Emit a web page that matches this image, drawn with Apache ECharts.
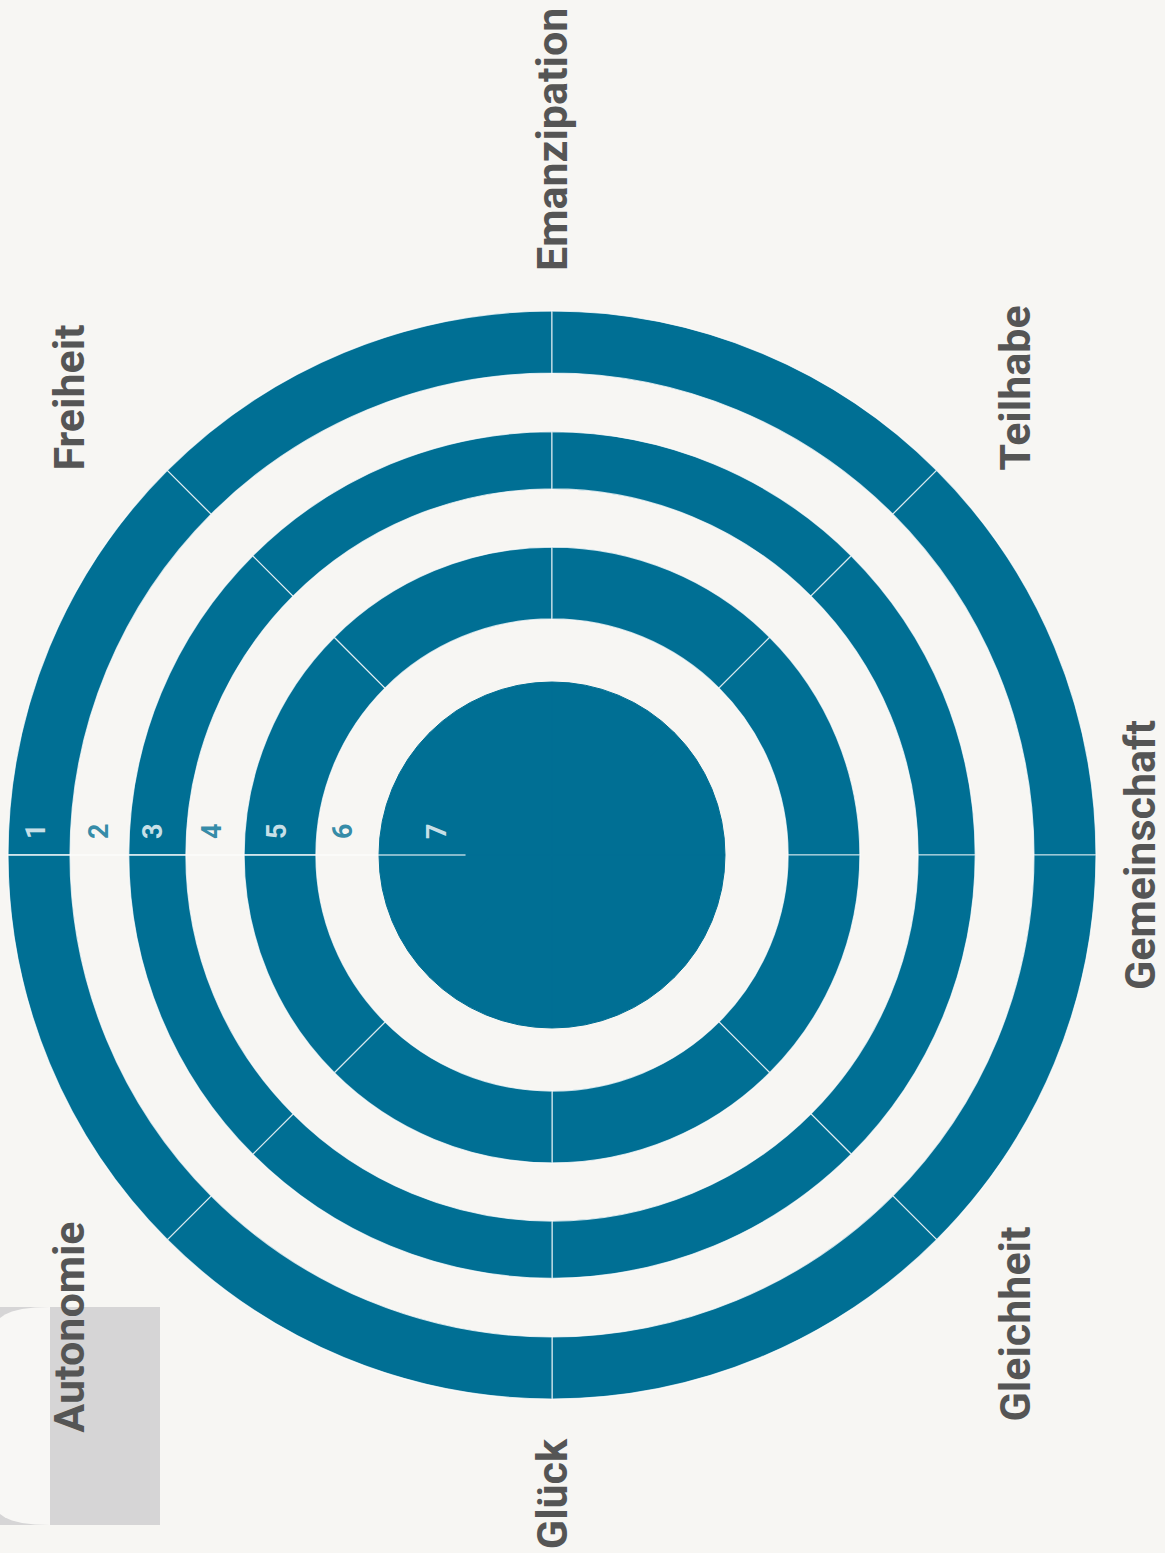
<!DOCTYPE html>
<html>
<head>
<meta charset="utf-8">
<script src="https://cdn.jsdelivr.net/npm/echarts@6/dist/echarts.min.js"></script>
<style>
  html, body { margin: 0; padding: 0; background: #f7f6f3; overflow: hidden; }
  /* chart is laid out upright and turned a quarter left, like the source */
  #chart { position: absolute; left: -194px; top: 194px; width: 1553px; height: 1165px; transform: rotate(-90deg); }
</style>
</head>
<body>
<div id="chart"></div>
<script>
// labels sit on the sector boundaries, clockwise from the radius axis
const categories = ['', 'Freiheit', 'Emanzipation', 'Teilhabe', 'Gemeinschaft', 'Gleichheit', 'Glück', 'Autonomie'];

// ring thickness per sector (radius scale 0-100), innermost level first
const level7 = [31.8, 31.8, 31.8, 31.8, 31.8, 31.8, 31.8, 31.8];
const level6 = [11.6, 11.6, 11.6, 11.6, 11.6, 11.6, 11.6, 11.6];
const level5 = [13.2, 13.2, 13.2, 13.2, 13.2, 13.2, 13.2, 13.2];
const level4 = [10.7, 10.7, 10.7, 10.7, 10.7, 10.7, 10.7, 10.7];
const level3 = [10.5, 10.5, 10.5, 10.5, 10.5, 10.5, 10.5, 10.5];
const level2 = [10.8, 10.8, 10.8, 10.8, 10.8, 10.8, 10.8, 10.8];
const level1 = [11.4, 11.4, 11.4, 11.4, 11.4, 11.4, 11.4, 11.4];

// radius axis tick labels and where they sit
const tickLabels = ['1', '2', '3', '4', '5', '6', '7'];
const tickRadius = [94.9, 83.3, 73.3, 62.5, 50.6, 38.4, 21.1];

const teal = '#006f94';
const textGrey = '#555555';

const myChart = echarts.init(document.getElementById('chart'), null, {renderer: 'svg', width: 1553, height: 1165});

const levels = [
    {name: '7', data: level7, filled: true},
    {name: '6', data: level6, filled: false},
    {name: '5', data: level5, filled: true},
    {name: '4', data: level4, filled: false},
    {name: '3', data: level3, filled: true},
    {name: '2', data: level2, filled: false},
    {name: '1', data: level1, filled: true},
];

// nudges for each boundary label: [top, right, bottom, left]
const labelPadding = [
    [0, 0, 0, 0],
    [0, 0, 98, 21],
    [0, 0, 0, 70],
    [78, 0, 0, 21],
    [52, 0, 0, 0],
    [78, 8, 0, 0],
    [0, 70, 0, 0],
    [0, 3, 98, 0],
];

const labelRich = {};
labelPadding.forEach(function (p, i) {
    labelRich['p' + i] = {
        padding: p,
        color: textGrey,
        fontFamily: 'Roboto',
        fontWeight: 'bold',
        fontSize: 43,
    };
});

const ringSeries = levels.map(function (lv, i) {
    return {
        type: 'bar',
        name: lv.name,
        coordinateSystem: 'polar',
        polarIndex: 0,
        stack: 'rings',
        barWidth: '100%',
        barCategoryGap: '0%',
        silent: true,
        itemStyle: lv.filled ? {
            color: teal,
            borderColor: i === 0 ? teal : 'rgba(255,255,255,0.75)',
            borderWidth: i === 0 ? 1 : 1.2,
        } : {
            color: 'rgba(0,0,0,0)',
            borderWidth: 0,
        },
        data: lv.data,
    };
});

let option = {
    backgroundColor: '#f7f6f3',
    animation: false,
    polar: [
        {center: [698, 552], radius: 544},
        {center: [698, 552], radius: [87, 544]},
    ],
    angleAxis: [
        {
            polarIndex: 0,
            type: 'category',
            data: categories,
            startAngle: 90,
            axisLine: {show: false},
            axisTick: {show: false},
            axisLabel: {show: false},
            splitLine: {show: false},
        },
        {
            // one unit per sector, so the labels land on the boundaries
            polarIndex: 1,
            type: 'value',
            min: 0,
            max: categories.length,
            interval: 1,
            startAngle: 90,
            axisLine: {show: false},
            axisTick: {show: false},
            splitLine: {show: false},
            axisLabel: {
                margin: -30,
                color: textGrey,
                fontFamily: 'Roboto',
                fontWeight: 'bold',
                fontSize: 43,
                formatter: function (value) {
                    const name = categories[value];
                    return name ? '{p' + value + '|' + name + '}' : '';
                },
                rich: labelRich,
            },
        },
    ],
    radiusAxis: [
        {
            polarIndex: 0,
            type: 'value',
            min: 0,
            max: 100,
            show: false,
        },
        {
            polarIndex: 1,
            type: 'value',
            min: 16,
            max: 100,
            z: 5,
            axisLine: {show: true, lineStyle: {color: 'rgba(255,255,255,0.7)', width: 1.5}},
            axisTick: {show: false},
            axisLabel: {show: false},
            splitLine: {show: false},
        },
    ],
    graphic: [
        {
            type: 'rect',
            z: -10,
            shape: {x: 28, y: 0, width: 218, height: 160},
            style: {fill: '#d6d5d6'},
        },
        {
            type: 'polygon',
            z: -9,
            shape: {
                points: [[28, 50], [246, 50], [245.5, 35], [244, 22], [241.5, 12], [238.5, 5], [235, 0],
                    [39, 0], [35.5, 5], [32.5, 12], [30, 22], [28.5, 35]],
            },
            style: {fill: '#f8f7f5'},
        },
    ],
    series: ringSeries.concat([
        {
            type: 'scatter',
            coordinateSystem: 'polar',
            polarIndex: 1,
            symbolSize: 0,
            silent: true,
            z: 10,
            label: {
                show: true,
                position: 'right',
                distance: 16,
                fontFamily: 'Roboto',
                fontWeight: 'bold',
                fontSize: 27,
                textBorderWidth: 0,
                formatter: function (p) {
                    return tickLabels[p.dataIndex];
                },
            },
            data: tickRadius.map(function (r, i) {
                return {value: [r, 0], label: {color: i % 2 === 0 ? '#ffffff' : teal}};
            }),
        },
    ]),
};

option && myChart.setOption(option);
</script>
</body>
</html>
